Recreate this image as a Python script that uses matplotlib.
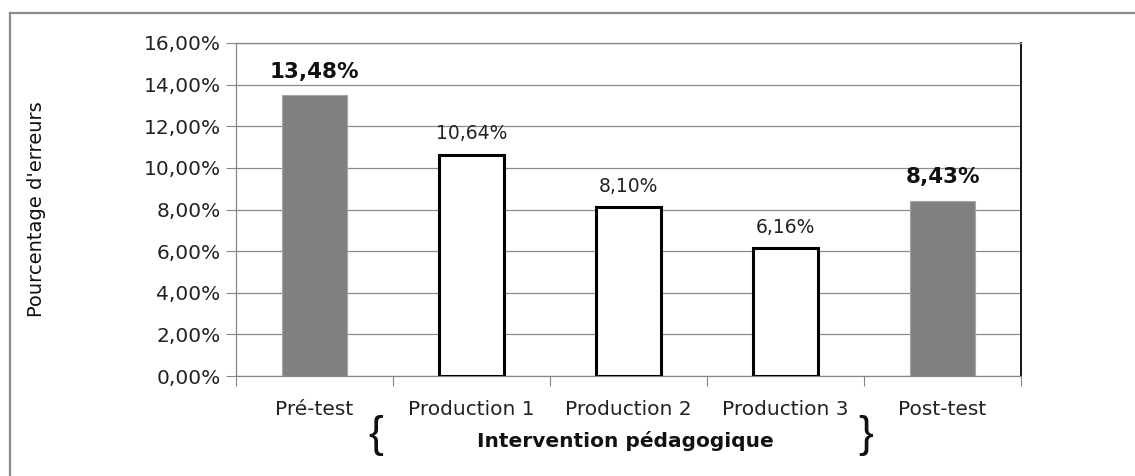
import matplotlib
matplotlib.use("Agg")
import matplotlib.pyplot as plt
from matplotlib.ticker import FuncFormatter, FixedLocator, NullFormatter
from matplotlib.lines import Line2D

categories = ["Pré-test", "Production 1", "Production 2", "Production 3", "Post-test"]
values = [13.48, 10.64, 8.10, 6.16, 8.43]
filled = [True, False, False, False, True]
y_ticks = [0, 2, 4, 6, 8, 10, 12, 14, 16]
y_label = "Pourcentage d'erreurs"
group_label = "Intervention pédagogique"

plt.rcParams['font.family'] = ['DejaVu Sans']

W, H = 1135, 476
fig = plt.figure(figsize=(W / 100, H / 100), dpi=100)
ax = fig.add_axes([236 / W, 1 - 376 / H, (1021 - 236) / W, (376 - 43) / H])

x = list(range(len(categories)))
for xi, v, f in zip(x, values, filled):
    if f:
        ax.bar(xi, v, width=0.41, color="#808080", edgecolor="#a6a6a6", linewidth=0.8, zorder=3)
    else:
        ax.bar(xi, v, width=0.41, color="white", edgecolor="black", linewidth=2.2, zorder=3)

def fmt(v):
    return f"{v:.2f}%".replace(".", ",")

for xi, v, f in zip(x, values, filled):
    if f:
        ax.annotate(fmt(v), (xi, v), xytext=(0, 10), textcoords="offset points",
                    ha="center", va="bottom", fontsize=15.5, fontweight="bold", color="#111111")
    else:
        ax.annotate(fmt(v), (xi, v), xytext=(0, 8), textcoords="offset points",
                    ha="center", va="bottom", fontsize=13.5, color="#222222")

ax.set_xlim(-0.5, len(categories) - 0.5)
ax.set_ylim(0, 16)
ax.set_yticks(y_ticks)
ax.yaxis.set_major_formatter(FuncFormatter(lambda v, p: fmt(v)))
ax.tick_params(axis="y", labelsize=14.5, length=7, color="#868686", pad=4, labelcolor="#222222")
ax.grid(axis="y", color="#8a8a8a", linewidth=0.9, zorder=0)
ax.set_axisbelow(True)

# categories: labels centred, ticks on boundaries
ax.xaxis.set_major_locator(FixedLocator([i - 0.5 for i in range(len(categories) + 1)]))
ax.xaxis.set_major_formatter(NullFormatter())
ax.xaxis.set_minor_locator(FixedLocator(x))
ax.xaxis.set_minor_formatter(FuncFormatter(lambda v, p: categories[int(round(v))]))
ax.tick_params(axis="x", which="major", length=7, color="#868686")
ax.tick_params(axis="x", which="minor", length=0, pad=17, labelsize=14.5, labelcolor="#222222")

for s in ["left", "bottom", "top"]:
    ax.spines[s].set_color("#868686")
    ax.spines[s].set_linewidth(0.9)
ax.spines["right"].set_color("black")
ax.spines["right"].set_linewidth(1.3)

ax.set_ylabel(y_label, fontsize=14, labelpad=0, color="#111111")
ax.yaxis.set_label_coords((46 - 236) / (1021 - 236), 0.5)

# group annotation
fig.text(376 / W, 1 - 435 / H, "{", fontsize=32, ha="center", va="center", color="#111111",
         family="Liberation Sans")
fig.text(866 / W, 1 - 435 / H, "}", fontsize=32, ha="center", va="center", color="#111111",
         family="Liberation Sans")
fig.text(625 / W, 1 - 441 / H, group_label, fontsize=14.5, fontweight="bold", ha="center", va="center", color="#111111")

# outer frame (only left/top visible)
fig.add_artist(Line2D([10 / W, 10 / W], [0, 1 - 13 / H], transform=fig.transFigure, color="#8c8c8c", linewidth=1.6))
fig.add_artist(Line2D([10 / W, 1], [1 - 13 / H, 1 - 13 / H], transform=fig.transFigure, color="#8c8c8c", linewidth=1.6))

fig.savefig("out.png", dpi=100)
